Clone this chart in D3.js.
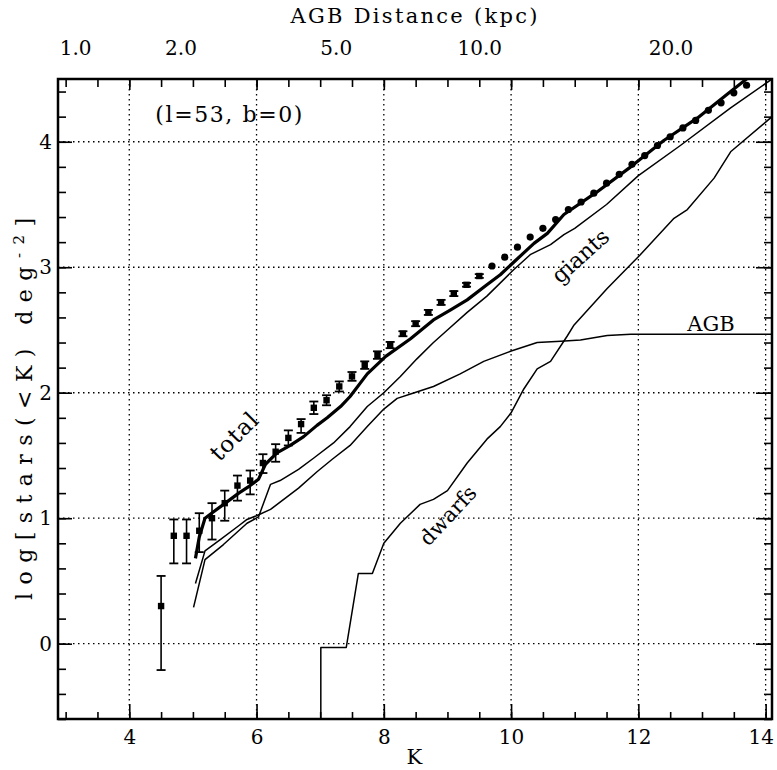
<!DOCTYPE html>
<html>
<head>
<meta charset="utf-8">
<script src="https://d3js.org/d3.v7.min.js"></script>
<style>
  body { margin: 0; background: #fff; }
  text { font-family: "DejaVu Serif", serif; fill: #000; }
</style>
</head>
<body>
<svg id="drawing_region"></svg>
<script>
// observed cumulative counts, (l=53, b=0)
const obsK = [4.5, 4.7, 4.9, 5.1, 5.3, 5.5, 5.7, 5.9, 6.1, 6.3, 6.5, 6.7, 6.9, 7.1, 7.3, 7.5,
  7.7, 7.9, 8.1, 8.3, 8.5, 8.7, 8.9, 9.1, 9.3, 9.5, 9.7, 9.9, 10.1, 10.3, 10.5, 10.7, 10.9,
  11.1, 11.3, 11.5, 11.7, 11.9, 12.1, 12.3, 12.5, 12.7, 12.9, 13.1, 13.3, 13.5, 13.7];
const obsLogN = [0.30, 0.86, 0.86, 0.90, 1.00, 1.12, 1.26, 1.30, 1.44, 1.53, 1.64, 1.75, 1.88,
  1.94, 2.05, 2.13, 2.22, 2.30, 2.38, 2.47, 2.55, 2.64, 2.72, 2.79, 2.86, 2.93, 3.01, 3.08,
  3.16, 3.24, 3.31, 3.38, 3.46, 3.52, 3.59, 3.67, 3.74, 3.82, 3.89, 3.97, 4.04, 4.11, 4.17,
  4.25, 4.31, 4.39, 4.45];
// error bar ends (only the brighter bins have visible bars)
const obsHi = [0.54, 0.99, 0.99, 1.04, 1.12, 1.22, 1.34, 1.38, 1.51, 1.59, 1.70, 1.79, 1.93,
  1.98, 2.09, 2.165, 2.25, 2.33, 2.405, 2.49, 2.57, 2.66, 2.74, 2.81, 2.875, 2.945];
const obsLo = [-0.21, 0.64, 0.64, 0.73, 0.83, 0.98, 1.14, 1.19, 1.36, 1.45, 1.58, 1.68, 1.83,
  1.90, 2.01, 2.095, 2.19, 2.27, 2.355, 2.45, 2.53, 2.62, 2.70, 2.77, 2.845, 2.915];

// model curves
const totalK = [5.04, 5.10, 5.19, 5.32, 5.51, 5.72, 5.90, 6.03, 6.14, 6.32, 6.53, 6.74, 6.95,
  7.11, 7.32, 7.47, 7.74, 8.03, 8.42, 8.78, 9.05, 9.31, 9.62, 9.83, 10.04, 10.36, 10.57,
  10.83, 11.35, 11.88, 12.40, 12.93, 13.45, 13.75];
const totalV = [0.68, 0.85, 1.00, 1.05, 1.12, 1.20, 1.26, 1.31, 1.43, 1.52, 1.58, 1.65, 1.74,
  1.80, 1.89, 1.97, 2.15, 2.29, 2.43, 2.58, 2.66, 2.74, 2.86, 2.94, 3.04, 3.19, 3.27,
  3.42, 3.60, 3.80, 4.01, 4.19, 4.40, 4.52];

const giantsK = [5.01, 5.19, 5.48, 5.85, 6.03, 6.22, 6.37, 6.66, 6.90, 7.21, 7.47, 7.74, 8.00,
  8.26, 8.52, 8.78, 9.00, 9.31, 9.62, 10.04, 10.30, 10.46, 10.62, 10.83, 11.00, 11.50,
  12.00, 12.66, 13.45, 14.10];
const giantsV = [0.29, 0.67, 0.79, 0.96, 1.01, 1.27, 1.30, 1.39, 1.48, 1.60, 1.73, 1.89, 2.00,
  2.13, 2.27, 2.40, 2.50, 2.64, 2.77, 2.98, 3.10, 3.14, 3.18, 3.26, 3.31, 3.50,
  3.73, 3.97, 4.27, 4.50];

const agbK = [5.04, 5.19, 5.43, 5.72, 5.85, 6.00, 6.22, 6.66, 6.95, 7.19, 7.47, 7.74, 8.00,
  8.21, 8.42, 8.78, 9.20, 9.57, 9.99, 10.41, 10.78, 11.09, 11.51, 11.88, 14.10];
const agbV = [0.48, 0.74, 0.83, 0.94, 0.99, 1.02, 1.07, 1.24, 1.37, 1.47, 1.58, 1.73, 1.87,
  1.955, 1.99, 2.05, 2.15, 2.25, 2.33, 2.40, 2.41, 2.42, 2.456, 2.466, 2.466];

const dwarfsK = [7.01, 7.01, 7.41, 7.60, 7.82, 8.00, 8.26, 8.57, 8.78, 9.00, 9.31, 9.62, 9.83,
  10.00, 10.20, 10.41, 10.62, 10.88, 10.99, 11.51, 12.03, 12.56, 12.77, 13.19, 13.45, 14.10];
const dwarfsV = [-0.60, -0.03, -0.03, 0.56, 0.56, 0.80, 0.96, 1.11, 1.15, 1.22, 1.44, 1.63, 1.73,
  1.84, 2.03, 2.19, 2.25, 2.45, 2.54, 2.83, 3.10, 3.39, 3.46, 3.71, 3.92, 4.20];

// axes
const kMajor = [4, 6, 8, 10, 12, 14];
const logMajor = [0, 1, 2, 3, 4];
const topDist = [1.0, 2.0, 5.0, 10.0, 20.0];
const topLabels = ["1.0", "2.0", "5.0", "10.0", "20.0"];

// apparent K of an AGB star at distance d (kpc), incl. ~0.15 mag/kpc extinction
function distToK(d) { return 3.0 + 5 * Math.log10(d) + 0.15 * d; }

class CountsChart {
    constructor(config) {
        this.config = {
            parent: config.parent,
            width: config.width || 777,
            height: config.height || 770,
            margin: config.margin || {top: 79, right: 5, bottom: 51, left: 58}
        };
        this.init();
    }

    init() {
        let self = this;
        self.svg = d3.select(self.config.parent)
            .attr('width', self.config.width)
            .attr('height', self.config.height);

        self.inner_width = self.config.width - self.config.margin.left - self.config.margin.right;
        self.inner_height = self.config.height - self.config.margin.top - self.config.margin.bottom;

        self.chart = self.svg.append('g')
            .attr('transform', `translate(${self.config.margin.left}, ${self.config.margin.top})`);

        self.x = d3.scaleLinear().domain([2.88, 14.1]).range([0, self.inner_width]);
        self.y = d3.scaleLinear().domain([-0.6, 4.5]).range([self.inner_height, 0]);

        self.chart.append('clipPath').attr('id', 'plotclip')
            .append('rect').attr('width', self.inner_width).attr('height', self.inner_height);
    }

    render() {
        let self = this;
        const x = self.x, y = self.y, W = self.inner_width, H = self.inner_height;

        // dotted grid
        const grid = self.chart.append('g')
            .attr('stroke', '#000').attr('stroke-width', 1.3).attr('stroke-dasharray', '1.5,3.5');
        grid.selectAll('.gx').data(kMajor).enter().append('line')
            .attr('x1', d => x(d)).attr('x2', d => x(d)).attr('y1', 0).attr('y2', H);
        grid.selectAll('.gy').data(logMajor).enter().append('line')
            .attr('y1', d => y(d)).attr('y2', d => y(d)).attr('x1', 0).attr('x2', W);

        const minorK = d3.range(3, 14.01, 0.5);
        const minorY = d3.range(-0.6, 4.51, 0.2).map(d => Math.round(d * 10) / 10);

        const styleAxis = g => {
            g.select('.domain').remove();
            g.selectAll('.tick line').attr('stroke-width', 1.6);
            g.selectAll('.tick text').style('font-family', '"DejaVu Serif", serif')
                .style('font-size', '20px').attr('fill', '#000');
        };

        // bottom
        self.chart.append('g').attr('transform', `translate(0,${H})`)
            .call(d3.axisBottom(x).tickValues(minorK).tickSize(-7).tickFormat('')).call(styleAxis);
        self.chart.append('g').attr('transform', `translate(0,${H})`)
            .call(d3.axisBottom(x).tickValues(kMajor).tickSize(-15).tickPadding(11).tickFormat(d3.format('d')))
            .call(styleAxis)
            .selectAll('.tick text').filter(d => d === 14).attr('dx', -5);
        // top
        self.chart.append('g')
            .call(d3.axisTop(x).tickValues(minorK).tickSize(-8).tickFormat('')).call(styleAxis);
        self.chart.append('g')
            .call(d3.axisTop(x).tickValues(kMajor).tickSize(-11).tickFormat('')).call(styleAxis);
        self.chart.append('g')
            .call(d3.axisTop(x).tickValues(topDist.map(distToK)).tickSize(0).tickPadding(24)
                .tickFormat((d, i) => topLabels[i]))
            .call(styleAxis);
        // left
        self.chart.append('g')
            .call(d3.axisLeft(y).tickValues(minorY).tickSize(-8).tickFormat('')).call(styleAxis);
        self.chart.append('g')
            .call(d3.axisLeft(y).tickValues(logMajor).tickSize(-14).tickPadding(6).tickFormat(d3.format('d')))
            .call(styleAxis);
        // right
        self.chart.append('g').attr('transform', `translate(${W},0)`)
            .call(d3.axisRight(y).tickValues(minorY).tickSize(-8).tickFormat('')).call(styleAxis);
        self.chart.append('g').attr('transform', `translate(${W},0)`)
            .call(d3.axisRight(y).tickValues(logMajor).tickSize(-16).tickFormat('')).call(styleAxis);

        // frame
        self.chart.append('rect')
            .attr('width', W).attr('height', H)
            .attr('fill', 'none').attr('stroke', '#000').attr('stroke-width', 2.5);

        // model curves
        const line = d3.line().x(d => x(d[0])).y(d => y(d[1]));
        const curves = [
            {k: totalK, v: totalV, w: 3.2},
            {k: giantsK, v: giantsV, w: 1.5},
            {k: agbK, v: agbV, w: 1.5},
            {k: dwarfsK, v: dwarfsV, w: 1.5}
        ];
        self.chart.append('g').attr('clip-path', 'url(#plotclip)')
            .selectAll('path').data(curves).enter().append('path')
            .attr('d', c => line(c.k.map((k, i) => [k, c.v[i]])))
            .attr('fill', 'none').attr('stroke', '#000')
            .attr('stroke-width', c => c.w).attr('stroke-linejoin', 'round');

        // observed points
        const pts = obsK.map((k, i) => ({k: k, v: obsLogN[i],
            hi: i < obsHi.length ? obsHi[i] : null, lo: i < obsLo.length ? obsLo[i] : null}));
        const pg = self.chart.append('g').attr('clip-path', 'url(#plotclip)')
            .selectAll('g').data(pts).enter().append('g');
        const bars = pg.filter(d => d.hi !== null);
        bars.append('line')
            .attr('x1', d => x(d.k)).attr('x2', d => x(d.k))
            .attr('y1', d => y(d.hi)).attr('y2', d => y(d.lo))
            .attr('stroke', '#000').attr('stroke-width', 1.6);
        ['hi', 'lo'].forEach(end => {
            bars.append('line')
                .attr('x1', d => x(d.k) - 4.5).attr('x2', d => x(d.k) + 4.5)
                .attr('y1', d => y(d[end])).attr('y2', d => y(d[end]))
                .attr('stroke', '#000').attr('stroke-width', 1.8);
        });
        bars.append('rect')
            .attr('x', d => x(d.k) - 3.2).attr('y', d => y(d.v) - 3.2)
            .attr('width', 6.4).attr('height', 6.4).attr('fill', '#000');
        pg.filter(d => d.hi === null).append('circle')
            .attr('cx', d => x(d.k)).attr('cy', d => y(d.v)).attr('r', 3.6).attr('fill', '#000');

        // curve labels
        const lab = (k, v, rot, txt, size) => self.chart.append('text')
            .attr('transform', `translate(${x(k)},${y(v)}) rotate(${rot})`)
            .attr('text-anchor', 'middle').attr('dominant-baseline', 'central')
            .style('font-size', size + 'px').text(txt);
        lab(5.65, 1.655, -45, 'total', 23).attr('letter-spacing', 1);
        lab(11.09, 3.09, -42, 'giants', 22);
        lab(9.01, 1.02, -47, 'dwarfs', 21);
        self.chart.append('text')
            .attr('x', x(13.14)).attr('y', y(2.466) - 3)
            .attr('text-anchor', 'middle').style('font-size', '21px').text('AGB');

        self.chart.append('text')
            .attr('x', x(4.41)).attr('y', y(4.157))
            .attr('textLength', 147).attr('lengthAdjust', 'spacing')
            .style('font-size', '22px').text('(l=53, b=0)');

        // axis titles
        self.svg.append('text')
            .attr('x', 414).attr('y', 23).attr('text-anchor', 'middle')
            .attr('textLength', 247).attr('lengthAdjust', 'spacing')
            .style('font-size', '21px').text('AGB Distance (kpc)');
        self.svg.append('text')
            .attr('x', self.config.margin.left + x(8.48)).attr('y', 764).attr('text-anchor', 'middle')
            .style('font-size', '21px').text('K');
        const yl = self.svg.append('text')
            .attr('transform', 'translate(32,409) rotate(-90)')
            .attr('text-anchor', 'middle')
            .attr('textLength', 382).attr('lengthAdjust', 'spacing')
            .style('font-size', '22px');
        yl.append('tspan').text('log[stars(<K)  deg');
        yl.append('tspan').attr('dy', -8).style('font-size', '15px').text('-2');
        yl.append('tspan').attr('dy', 8).text(']');
    }
}

const chart = new CountsChart({parent: '#drawing_region', width: 777, height: 770});
chart.render();
</script>
</body>
</html>
